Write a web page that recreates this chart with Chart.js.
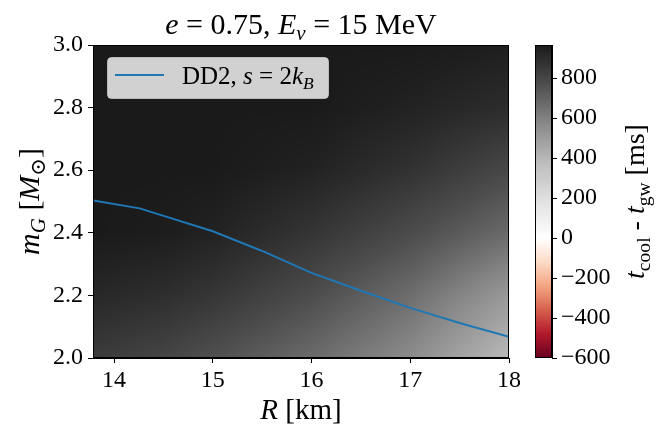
<!DOCTYPE html>
<html>
<head>
<meta charset="utf-8">
<script src="https://cdn.jsdelivr.net/npm/chart.js@4"></script>
<style>
  html, body { margin: 0; padding: 0; background: #fff; }
  #wrap { position: relative; width: 657px; height: 433px; }
  #main { position: absolute; left: 0; top: 0; }
  #cbar { position: absolute; left: 520px; top: 0; }
</style>
</head>
<body>
<div id="wrap">
  <canvas id="main" width="657" height="433"></canvas>
  <canvas id="cbar" width="137" height="433"></canvas>
</div>
<script>
// DD2 curve, s = 2 kB
const lineR = [13.79, 14.26, 15.0, 15.5, 16.0, 16.5, 17.0, 17.5, 18.0]
const lineM = [2.503, 2.478, 2.405, 2.342, 2.272, 2.215, 2.160, 2.112, 2.068]

// t_cool - t_gw [ms], rows follow hmM, columns follow hmR
const hmR = [13.79, 14.5, 15.0, 16.0, 17.0, 18.0]
const hmM = [2.0, 2.2, 2.4, 2.6, 2.8, 3.0]
const hmRow20 = [840, 805, 765, 675, 560, 390]
const hmRow22 = [915, 890, 860, 775, 665, 510]
const hmRow24 = [965, 955, 935, 865, 780, 675]
const hmRow26 = [965, 965, 965, 935, 875, 790]
const hmRow28 = [965, 965, 965, 965, 935, 895]
const hmRow30 = [965, 965, 965, 965, 965, 950]
const hmRows = [hmRow20, hmRow22, hmRow24, hmRow26, hmRow28, hmRow30]

const xTicks = [14, 15, 16, 17, 18]
const yTicks = [2.0, 2.2, 2.4, 2.6, 2.8, 3.0]
const cbTicks = [-600, -400, -200, 0, 200, 400, 600, 800]

const X_MIN = 13.787, X_MAX = 18
const Y_MIN = 2.0, Y_MAX = 3.0
const V_MIN = -600, V_MAX = 965

const FONT = "'Liberation Serif', 'DejaVu Serif', serif"
const RDGY = ['#67001f', '#b2182b', '#d6604d', '#f4a582', '#fddbc7', '#ffffff',
              '#e0e0e0', '#bababa', '#878787', '#4d4d4d', '#1a1a1a']
const RDGY_RGB = RDGY.map(h => [1, 3, 5].map(i => parseInt(h.substr(i, 2), 16)))

// red half for negative values, grey half for positive, white at zero
function colour(v) {
  let t = v < 0 ? 0.5 * (v - V_MIN) / -V_MIN : 0.5 + 0.5 * v / V_MAX
  t = Math.min(1, Math.max(0, t)) * (RDGY_RGB.length - 1)
  const i = Math.min(RDGY_RGB.length - 2, Math.floor(t))
  const f = t - i
  const a = RDGY_RGB[i], b = RDGY_RGB[i + 1]
  return [0, 1, 2].map(k => Math.round(a[k] + (b[k] - a[k]) * f))
}

function locate(arr, v) {
  let i = 0
  while (i < arr.length - 2 && v > arr[i + 1]) i++
  const f = Math.min(1, Math.max(0, (v - arr[i]) / (arr[i + 1] - arr[i])))
  return [i, f]
}

function mapValue(r, m) {
  const [i, fx] = locate(hmR, r)
  const [j, fy] = locate(hmM, m)
  const v00 = hmRows[j][i], v10 = hmRows[j][i + 1]
  const v01 = hmRows[j + 1][i], v11 = hmRows[j + 1][i + 1]
  return (v00 * (1 - fx) + v10 * fx) * (1 - fy) + (v01 * (1 - fx) + v11 * fx) * fy
}

// text with italic / subscript pieces, centred on (x, y)
function fontOf(p, size) {
  return (p.i ? 'italic ' : '') + (p.s ? size * 0.7 : size) + 'px ' + FONT
}

function richWidth(ctx, parts, size) {
  let total = 0
  parts.forEach(p => { ctx.font = fontOf(p, size); total += ctx.measureText(p.t).width })
  return total
}

function drawRich(ctx, parts, x, y, size, rot) {
  ctx.save()
  ctx.translate(x, y)
  ctx.rotate(rot || 0)
  ctx.fillStyle = '#000'
  ctx.textBaseline = 'alphabetic'
  ctx.textAlign = 'left'
  let cx = -richWidth(ctx, parts, size) / 2
  parts.forEach(p => {
    ctx.font = fontOf(p, size)
    ctx.fillText(p.t, cx, size * 0.35 + (p.s ? size * 0.22 : 0))
    cx += ctx.measureText(p.t).width
  })
  ctx.restore()
}

const EQ = ' = '

const heatmapPlugin = {
  id: 'heatmap',
  beforeDatasetsDraw(chart) {
    const { ctx, chartArea: a, scales: { x, y } } = chart
    const w = Math.round(a.right - a.left), h = Math.round(a.bottom - a.top)
    const off = document.createElement('canvas')
    off.width = w; off.height = h
    const octx = off.getContext('2d')
    const img = octx.createImageData(w, h)
    for (let py = 0; py < h; py++) {
      const m = y.getValueForPixel(a.top + py + 0.5)
      for (let px = 0; px < w; px++) {
        const r = x.getValueForPixel(a.left + px + 0.5)
        const c = colour(mapValue(r, m))
        const k = (py * w + px) * 4
        img.data[k] = c[0]; img.data[k + 1] = c[1]; img.data[k + 2] = c[2]; img.data[k + 3] = 255
      }
    }
    octx.putImageData(img, 0, 0)
    ctx.drawImage(off, a.left, a.top)
  },
  afterDraw(chart) {
    const { ctx, chartArea: a } = chart
    ctx.save()
    ctx.strokeStyle = '#000'
    ctx.lineWidth = 1
    ctx.strokeRect(Math.round(a.left) + 0.5, Math.round(a.top) + 0.5,
                   Math.round(a.right - a.left) - 1, Math.round(a.bottom - a.top) - 1)

    // legend
    const lx = 107, ly = 57, lw = 221, lh = 41
    ctx.beginPath()
    ctx.roundRect(lx + 0.5, ly + 0.5, lw, lh, 4)
    ctx.fillStyle = 'rgba(255,255,255,0.8)'
    ctx.fill()
    ctx.strokeStyle = 'rgba(204,204,204,0.8)'
    ctx.stroke()
    ctx.beginPath()
    ctx.moveTo(115, 75); ctx.lineTo(164, 75)
    ctx.strokeStyle = '#1f77b4'
    ctx.lineWidth = 2
    ctx.stroke()
    ctx.restore()
    const legParts = [{ t: 'DD2, ' }, { t: 's', i: 1 }, { t: EQ + '2' }, { t: 'k', i: 1 }, { t: 'B', i: 1, s: 1 }]
    drawRich(ctx, legParts, 182 + richWidth(ctx, legParts, 25) / 2, 75, 25)

    drawRich(ctx, [{ t: 'e', i: 1 }, { t: EQ + '0.75, ' }, { t: 'E', i: 1 }, { t: 'ν', i: 1, s: 1 }, { t: EQ + '15 MeV' }],
             (a.left + a.right) / 2, 23, 30)
    drawRich(ctx, [{ t: 'R', i: 1 }, { t: ' [km]' }], (a.left + a.right) / 2, 409, 29)
    drawRich(ctx, [{ t: 'm', i: 1 }, { t: 'G', i: 1, s: 1 }, { t: ' [' }, { t: 'M', i: 1 }, { t: '⊙', s: 1 }, { t: ']' }],
             28, (a.top + a.bottom) / 2, 30, -Math.PI / 2)
  }
}

const tickFont = { family: FONT, size: 24 }

new Chart(document.getElementById('main'), {
  type: 'scatter',
  data: {
    datasets: [{
      label: 'DD2, s = 2kB',
      data: lineR.map((r, i) => ({ x: r, y: lineM[i] })),
      showLine: true,
      borderColor: '#1f77b4',
      borderWidth: 2,
      pointRadius: 0,
      tension: 0
    }]
  },
  options: {
    responsive: false,
    animation: false,
    layout: { padding: { left: 0, top: 45, right: 148, bottom: 0 } },
    plugins: { legend: { display: false }, tooltip: { enabled: false } },
    scales: {
      x: {
        type: 'linear', min: X_MIN, max: X_MAX,
        afterBuildTicks: s => { s.ticks = xTicks.map(v => ({ value: v })) },
        afterFit: s => { s.height = 75 },
        ticks: { font: tickFont, color: '#000', padding: 3, maxRotation: 0, callback: v => String(v) },
        grid: { drawOnChartArea: false, drawTicks: true, tickLength: 5, color: '#000' },
        border: { color: '#000' }
      },
      y: {
        type: 'linear', min: Y_MIN, max: Y_MAX,
        afterBuildTicks: s => { s.ticks = yTicks.map(v => ({ value: v })) },
        afterFit: s => { s.width = 93 },
        ticks: { font: tickFont, color: '#000', padding: 5, callback: v => v.toFixed(1) },
        grid: { drawOnChartArea: false, drawTicks: true, tickLength: 5, color: '#000' },
        border: { color: '#000' }
      }
    }
  },
  plugins: [heatmapPlugin]
})

const colourbarPlugin = {
  id: 'colourbar',
  beforeDatasetsDraw(chart) {
    const { ctx, chartArea: a, scales: { y } } = chart
    for (let py = Math.round(a.top); py < Math.round(a.bottom); py++) {
      const c = colour(y.getValueForPixel(py + 0.5))
      ctx.fillStyle = `rgb(${c[0]},${c[1]},${c[2]})`
      ctx.fillRect(a.left, py, a.right - a.left, 1)
    }
  },
  afterDraw(chart) {
    const { ctx, chartArea: a } = chart
    ctx.save()
    ctx.strokeStyle = '#000'
    ctx.lineWidth = 1
    ctx.strokeRect(Math.round(a.left) + 0.5, Math.round(a.top) + 0.5,
                   Math.round(a.right - a.left) - 1, Math.round(a.bottom - a.top) - 1)
    ctx.restore()
    drawRich(ctx, [{ t: 't', i: 1 }, { t: 'cool', s: 1 }, { t: ' - ' }, { t: 't', i: 1 }, { t: 'gw', s: 1 }, { t: ' [ms]' }],
             114, (a.top + a.bottom) / 2, 28, -Math.PI / 2)
  }
}

new Chart(document.getElementById('cbar'), {
  type: 'scatter',
  data: { datasets: [{ data: [] }] },
  options: {
    responsive: false,
    animation: false,
    layout: { padding: { left: 15, top: 45, right: 0, bottom: 75 } },
    plugins: { legend: { display: false }, tooltip: { enabled: false } },
    scales: {
      x: { display: false, min: 0, max: 1 },
      y: {
        type: 'linear', position: 'right', min: V_MIN, max: V_MAX,
        afterBuildTicks: s => { s.ticks = cbTicks.map(v => ({ value: v })) },
        afterFit: s => { s.width = 105 },
        ticks: { font: tickFont, color: '#000', padding: 4, callback: v => String(v).replace('-', '\u2212') },
        grid: { drawOnChartArea: false, drawTicks: true, tickLength: 5, color: '#000' },
        border: { color: '#000' }
      }
    }
  },
  plugins: [colourbarPlugin]
})
</script>
</body>
</html>
